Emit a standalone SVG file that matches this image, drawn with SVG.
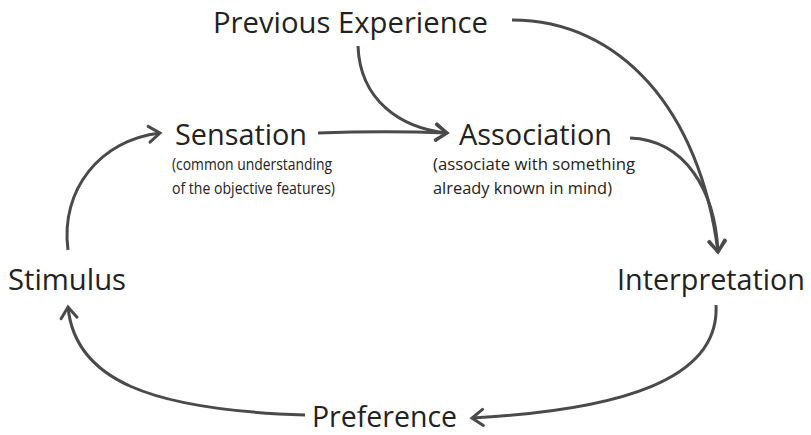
<svg xmlns="http://www.w3.org/2000/svg" width="811" height="435" viewBox="0 0 811 435">
<style>
.t{font-family:"Open Sans","Liberation Sans",sans-serif;fill:#222;}
.big{font-size:29px;}
.small{font-size:17px;}
.c{fill:none;stroke:#4a4a4a;stroke-width:3;marker-end:url(#arr);}
</style>
<defs>
<marker id="arr" markerUnits="userSpaceOnUse" markerWidth="30" markerHeight="30" viewBox="-15 -15 30 30" refX="0" refY="0" orient="auto">
<path d="M-11,-8 L0,0 L-11,8" fill="none" stroke="#4a4a4a" stroke-width="3" stroke-linecap="round" stroke-linejoin="miter"/>
</marker>
</defs>
<rect width="811" height="435" fill="#fff"/>
<g id="connectors">
<path class="c" d="M68,250 C60,190 100,140 160,133"/>
<path class="c" d="M318,133 C370,131 400,131 447,133"/>
<path class="c" d="M358,46 C360,100 400,128 447,133"/>
<path class="c" d="M512,20 C620,20 700,110 718,252"/>
<path class="c" d="M630,138 C685,140 715,190 718,252"/>
<path class="c" d="M716,305 C720,380 620,410 472,418"/>
<path class="c" d="M305,415 C150,410 75,380 68,307"/>
</g>
<g id="previous-experience"><text class="t big" x="213" y="33" textLength="275" lengthAdjust="spacingAndGlyphs">Previous Experience</text></g>
<g id="sensation">
<text class="t big" x="175" y="145" textLength="132" lengthAdjust="spacingAndGlyphs">Sensation</text>
<text class="t small" x="172" y="170" textLength="160" lengthAdjust="spacingAndGlyphs">(common understanding</text>
<text class="t small" x="172" y="194" textLength="163" lengthAdjust="spacingAndGlyphs">of the objective features)</text>
</g>
<g id="association">
<text class="t big" x="459" y="145" textLength="153" lengthAdjust="spacingAndGlyphs">Association</text>
<text class="t small" x="433" y="170" textLength="202" lengthAdjust="spacingAndGlyphs">(associate with something</text>
<text class="t small" x="433" y="194" textLength="179" lengthAdjust="spacingAndGlyphs">already known in mind)</text>
</g>
<g id="stimulus"><text class="t big" x="8" y="290" textLength="118" lengthAdjust="spacingAndGlyphs">Stimulus</text></g>
<g id="interpretation"><text class="t big" x="617" y="290" textLength="188" lengthAdjust="spacingAndGlyphs">Interpretation</text></g>
<g id="preference"><text class="t big" x="312" y="427" textLength="145" lengthAdjust="spacingAndGlyphs">Preference</text></g>
</svg>
